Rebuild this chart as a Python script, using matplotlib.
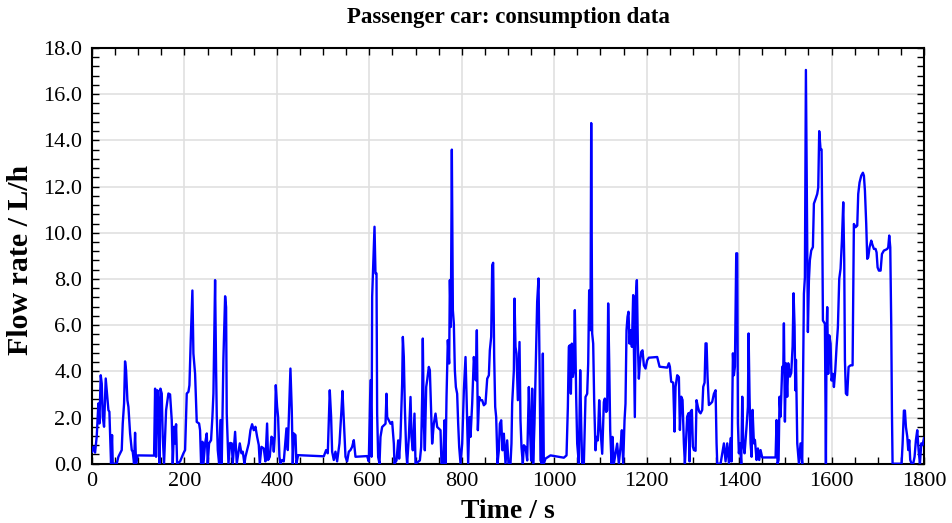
import numpy as np
import matplotlib
matplotlib.use("Agg")
import matplotlib.pyplot as plt
from matplotlib.ticker import MultipleLocator, FormatStrFormatter

# values (time in s, flow in L/h)
time_s = [
    0, 3, 6.6, 10.2, 13.8, 16, 18.9, 21.1, 23.2, 26.1, 29.7, 31.9, 35.5, 37.6, 39.8, 41.2, 43.4, 44.9,
    53.5, 57.1, 64.3, 66.5, 69.4, 71.5, 73.7, 76.6, 78.8, 82.4, 86, 88.1, 91, 93.2, 95.3, 99,
    134.3, 136.5, 138.6, 141.5, 143.7, 145.8, 148, 150.9, 153, 155.9, 158.1, 160.3, 165.3, 168.9,
    172.5, 174.7, 177.6, 179.7, 181.9, 184.1, 190.6, 197.8, 201.4, 205, 208.6, 210.8, 213.6, 217.2,
    219.4, 223, 226.6, 231.7, 233.8, 236, 238.9, 241.1, 244.7, 248.3, 250.4, 253.3, 257.6, 260.5,
    262.7, 266.3, 268.5, 269.9, 272.1, 275, 277.8, 280.7, 284.3, 288, 290.1, 291.5, 293.7, 295.2,
    298.8, 302.4, 304.5, 309.6, 313.2, 319.7, 323.3, 326.2, 329.8, 332, 335.6, 339.2, 342.8, 346.4,
    350, 353.6, 357.2, 360.8, 363, 366.6, 371.6, 375.2, 378.8, 381, 384.6, 388.2, 391.1, 393.3,
    395.4, 397.6, 400.5, 402.6, 405.5, 407.7, 411.3, 414.9, 418.5, 420.7, 423.6, 426.5, 429.3, 432.2,
    434.4, 436.5, 440.2, 442.3, 445.9, 501.5, 506.5, 510.1, 514.4, 517.3, 519.5, 523.1, 526.7, 530.3,
    535.4, 539.7, 541.9, 544.7, 548.4, 552, 555.6, 559.2, 562.8, 566.4, 570, 595.2, 598.8, 602.5,
    604.7, 606.1, 611.2, 613.3, 615.5, 616.9, 619.1, 622, 624.1, 627.7, 631.4, 635, 637.1, 638.6,
    642.2, 645.8, 649.4, 653, 654.4, 658.8, 662.4, 664.5, 667.4, 671, 672.5, 674.6, 676.8, 679.7,
    681.8, 685.5, 689.1, 691.2, 694.1, 697.7, 699.9, 709.3, 712.1, 714.3, 715.7, 717.9, 720.1, 723,
    725.1, 728.7, 730.9, 733.8, 735.9, 739.5, 743.2, 746.8, 750.4, 754, 756.1, 759.7, 762.6, 764.8,
    767, 769.8, 772.7, 774.2, 776.3, 778.5, 780.7, 782.8, 785, 787.2, 790, 792.2, 794.4, 797.3,
    800.9, 804.5, 808.1, 810.2, 813.8, 816.7, 818.9, 822.5, 826.1, 828.3, 830.4, 832.6, 834.8, 837.6,
    840.5, 844.1, 847.7, 851.3, 855, 858.6, 860.7, 863.6, 865.8, 867.9, 870.1, 872.3, 874.4, 877.3,
    880.2, 882.4, 885.3, 888.1, 891, 894.6, 898.2, 901.1, 905.4, 907.5, 909, 912.7, 914.1, 916.2,
    918.4, 921.3, 924.9, 927, 929.2, 932.1, 934.3, 937.9, 941.5, 945.1, 947.2, 950.1, 952.3, 954.4,
    957.3, 960.2, 963.1, 966, 968.2, 970.3, 973.2, 975.4, 977.5, 981.1, 992, 1020.8, 1026.6, 1029.5,
    1031.6, 1033.8, 1036, 1038.1, 1040.3, 1042.4, 1044.6, 1047.5, 1049.7, 1053.3, 1056.2, 1058.3,
    1060.5, 1064.1, 1067.7, 1071.3, 1073.5, 1075.6, 1078.5, 1080, 1082.1, 1084.3, 1086.4, 1089.3,
    1091.5, 1094.4, 1097.3, 1100.2, 1103.8, 1107.4, 1109.5, 1112.4, 1114.6, 1116.7, 1118.9, 1121.1,
    1124, 1126.1, 1129, 1136.2, 1139.8, 1143.4, 1146.3, 1149.2, 1152.1, 1154.2, 1156.4, 1158.6,
    1160.7, 1162.9, 1165.1, 1168, 1170.8, 1172.3, 1174.4, 1176.6, 1178.8, 1180.9, 1183.1, 1185.3,
    1188.2, 1191, 1193.9, 1197.5, 1201.1, 1204.7, 1222.8, 1227.9, 1244.5, 1248.1, 1250.2, 1253.1,
    1257.4, 1260.3, 1262.5, 1266.1, 1269.7, 1271.9, 1274.8, 1277.6, 1280.5, 1282.7, 1285.6, 1287.7,
    1290.6, 1292.8, 1295, 1297.8, 1300, 1302.2, 1305.8, 1307.9, 1310.8, 1313.7, 1316.6, 1320.2,
    1322.4, 1325.3, 1327.4, 1329.6, 1331.7, 1334.6, 1338.2, 1341.8, 1345.5, 1349.1, 1351.2, 1352.7,
    1359.9, 1367.1, 1370.7, 1374.3, 1378, 1381.5, 1383.7, 1386.6, 1388.7, 1390.9, 1393.8, 1395.9,
    1397.4, 1399.5, 1401.7, 1404.6, 1406.8, 1408.9, 1411.8, 1414, 1416.1, 1419, 1420.5, 1422.6,
    1424.8, 1427, 1429.1, 1432, 1434.2, 1437.8, 1440.7, 1443.5, 1446.4, 1450, 1478.9, 1481, 1483.2,
    1485.4, 1487.5, 1489.7, 1493.3, 1495.5, 1496.9, 1499.1, 1501.2, 1504.1, 1506.3, 1509.9, 1512.8,
    1515.7, 1517.8, 1520, 1521.5, 1523, 1525.8, 1529.4, 1532.9, 1536.5, 1540.2, 1542.3, 1544.5,
    1546.6, 1548.8, 1551, 1553.1, 1556, 1559.6, 1561.8, 1565.4, 1569, 1571.2, 1573.3, 1576.2, 1578.4,
    1579.8, 1581.3, 1585.6, 1587.8, 1589.2, 1590.6, 1592.8, 1595, 1597.9, 1600, 1602.9, 1605.1, 1608,
    1610.8, 1613.7, 1616.6, 1619.5, 1622.4, 1625.3, 1627.4, 1628.9, 1631, 1633.9, 1636.8, 1641.1,
    1645.5, 1648.3, 1652, 1655.6, 1657.7, 1660.6, 1664.2, 1667.8, 1670, 1672.2, 1675, 1677.2, 1679.4,
    1682.2, 1685.9, 1688, 1691.6, 1695.2, 1697.4, 1699.6, 1702.4, 1706.1, 1709, 1713.3, 1716.9,
    1720.5, 1722.6, 1724.8, 1727, 1729.1, 1730.6, 1732, 1751.5, 1753.7, 1756.5, 1758.7, 1760.9,
    1763.8, 1765.9, 1768.1, 1770.2, 1773.1, 1776.7, 1779.6, 1782.5, 1785.4, 1788.3, 1791.2, 1794.1,
    1796.9, 1800,
]
flow_lh = [
    0.52, 0.73, 0.48, 1.17, 2.61, 1.74, 3.83, 3.47, 2.03, 1.6, 3.69, 3.18, 2.32, 2.25, 0.95, 0, 1.24, 0,
    0, 0.3, 0.59, 1.74, 2.61, 4.43, 4.05, 2.75, 2.46, 1.31, 0.59, 0.52, 0, 1.34, 0, 0.36,
    0.35, 3.25, 0.3, 3.18, 2.61, 0, 3.25, 3.04, 1.17, 0, 1.17, 2.32, 3.04, 3.0,
    1.89, 0, 1.6, 0.88, 1.71, 0, 0.1, 0.45, 0.59, 3.04, 3.11, 3.4, 5.34, 7.5,
    4.77, 3.9, 1.81, 1.74, 1.45, 0, 0.95, 0, 0.88, 1.31, 0, 0.88, 1.02, 2.03,
    3.04, 7.95, 4.05, 2.1, 0.59, 0, 1.89, 0, 4.55, 7.25, 6.78, 2.17, 0.88, 0,
    0.9, 0.88, 0, 1.38, 0, 0.88, 0.45, 0.52, 0, 0.3, 0.59, 0.88, 1.45, 1.71,
    1.45, 1.6, 1.17, 0.81, 0, 0.73, 0.66, 0.1, 1.74, 0.16, 0.3, 1.17, 1.1, 0.52,
    1.17, 3.4, 2.46, 2.03, 0.3, 0, 0.16, 0.1, 1.02, 1.53, 0.59, 2.32, 4.12, 2.32,
    0, 1.31, 1.24, 0, 0.37, 0.32, 0.59, 0.45, 3.18, 2.03, 0.52, 0.16, 0.52, 0.1,
    0.88, 2.32, 3.15, 1.89, 0.3, 0.1, 0.52, 0.59, 0.73, 1.02, 0.3, 0.33, 0.1, 3.61,
    0.3, 7.23, 10.26, 8.24, 8.24, 2.17, 0.29, 0, 1.16, 1.59, 1.66, 1.73, 3.03, 2.02,
    1.88, 1.73, 1.81, 0.87, 0, 0.14, 1.01, 0.22, 1.16, 3.47, 5.49, 4.62, 2.46, 0.58,
    0, 1.16, 2.89, 1.16, 0.58, 2.17, 0, 0.14, 0.72, 2.89, 5.42, 1.73, 0.58, 3.32,
    3.61, 4.19, 4.05, 2.17, 0.87, 1.73, 2.17, 1.59, 1.52, 1.45, 0, 0, 1.88, 0,
    2.89, 5.35, 4.34, 7.95, 5.92, 13.6, 6.65, 6.07, 4.05, 3.32, 3.03, 1.73, 0.72, 0,
    0.87, 3.18, 4.62, 3.03, 0, 2.02, 1.16, 2.6, 4.62, 4.05, 3.61, 5.78, 1.45, 2.89,
    2.75, 2.75, 2.53, 2.6, 3.68, 3.83, 4.91, 5.49, 8.6, 8.7, 4.62, 2.46, 2.02, 0,
    0.58, 1.73, 1.88, 0.58, 1.3, 0, 1.01, 0, 0, 0.87, 2.6, 4.05, 7.15, 5.06,
    4.77, 2.75, 5.27, 1.88, 0.72, 0, 0.8, 0.72, 0.14, 3.32, 1.73, 0.14, 3.25, 0,
    1.73, 4.34, 7.01, 8.02, 4.34, 0.14, 0, 4.77, 0, 0.22, 0.36, 0.26, 0.36, 2.46,
    5.06, 5.13, 3.03, 5.2, 3.76, 4.05, 6.65, 2.89, 0.87, 0, 4.05, 1.73,
    0, 0, 2.89, 3.03, 4.34, 7.51, 5.78, 14.75, 5.64, 5.2, 2.75, 0.58,
    1.16, 1.01, 2.75, 1.45, 0.43, 2.67, 2.82, 2.24, 2.31, 6.94, 4.48, 1.45,
    0, 1.16, 0, 0.87, 0, 0.72, 1.45, 0, 1.88, 2.6, 5.78, 6.36,
    6.58, 5.2, 5.78, 5.06, 7.3, 5.2, 2.02, 7.23, 7.95, 5.2, 3.68, 4.34,
    4.84, 4.91, 4.26, 4.12, 4.48, 4.59, 4.62, 4.2, 4.16, 4.35, 4.2, 3.55,
    3.51, 1.39, 3.33, 3.83, 3.75, 1.46, 2.9, 2.76, 0.88, 0, 1.17, 2.04,
    2.19, 0.1, 2.25, 2.33, 0.74, 0.59, 0.56, 2.75, 2.46, 2.25, 2.18, 2.33,
    3.33, 3.51, 5.21, 5.21, 3.77, 2.54, 2.6, 2.68, 3.03, 3.18, 0.88, 0,
    0, 0.88, 0.1, 0.88, 0, 1.1, 0.1, 4.78, 3.83, 4.2, 9.11, 9.11,
    1.75, 0.45, 0.88, 0, 2.9, 0.88, 0.45, 1.03, 1.6, 2.46, 5.64, 2.9,
    0.88, 0.3, 2.33, 0.88, 1.03, 0.16, 0.66, 0.16, 0.59, 0.27, 0.27, 1.89, 0,
    0.16, 2.9, 2.04, 4.2, 4.06, 6.08, 1.82, 4.35, 2.9, 4.35, 3.77, 3.93,
    5.08, 7.38, 5.94, 3.18, 4.5, 0.88, 0, 0.88, 0, 7.36, 8.06, 17.05,
    11.26, 5.7, 7.94, 8.81, 9.23, 9.38, 11.26, 11.46, 11.68, 11.96, 14.4, 13.61, 13.61,
    10.53, 6.2, 6.06, 0, 5.62, 6.78, 3.89, 5.56, 5.2, 3.6, 3.89, 3.32, 4.04,
    5.05, 5.91, 8.0, 8.44, 9.66, 11.32, 8.8, 4.49, 3.04, 2.97, 4.19, 4.26,
    4.26, 10.38, 10.24, 10.31, 11.68, 12.18, 12.47, 12.6, 12.47, 11.82, 10.38, 8.87, 8.94,
    9.37, 9.66, 9.51, 9.3, 9.3, 9.15, 8.5, 8.36, 8.36, 9.08, 9.23, 9.26,
    9.3, 9.37, 9.88, 9.37, 6.06, 2.3, 0, 0, 0.86, 2.3, 2.3, 1.59,
    1.17, 0.59, 1.02, 0.16, 0, 0, 0.3, 1.02, 1.45, 0.59, 0, 0.88,
    0.81, 1.1,
]

plt.rcParams['font.family'] = ['Liberation Serif', 'DejaVu Serif']

fig = plt.figure(figsize=(9.52, 5.23), dpi=100)
ax = fig.add_axes([92 / 952, 59.3 / 523, 832 / 952, 415.7 / 523])

ax.plot(time_s, flow_lh, color='#0000ff', lw=1.7, zorder=3)

ax.set_xlim(0, 1800)
ax.set_ylim(0, 18)
ax.xaxis.set_major_locator(MultipleLocator(200))
ax.xaxis.set_minor_locator(MultipleLocator(50))
ax.yaxis.set_major_locator(MultipleLocator(2))
ax.yaxis.set_minor_locator(MultipleLocator(0.4))
ax.yaxis.set_major_formatter(FormatStrFormatter('%.1f'))

ax.grid(True, which='major', color='#e0e0e0', lw=1.2, zorder=0)
ax.tick_params(which='both', direction='in', top=True, right=True,
               length=5, width=1, labelsize=16, color='black')
ax.tick_params(axis='x', pad=6)
ax.tick_params(axis='y', pad=7)
for s in ax.spines.values():
    s.set_linewidth(1.5)

ax.set_xlabel('Time / s', fontsize=20, fontweight='bold')
ax.set_ylabel('Flow rate / L/h', fontsize=21.5, fontweight='bold')
ax.xaxis.set_label_coords(0.5, -0.085)
ax.yaxis.set_label_coords(-0.0697, 0.49)

fig.text(508 / 952, 1 - 18 / 523, 'Passenger car: consumption data',
         ha='center', va='center', fontsize=16.5, fontweight='bold')

fig.savefig('out.png', dpi=100)
